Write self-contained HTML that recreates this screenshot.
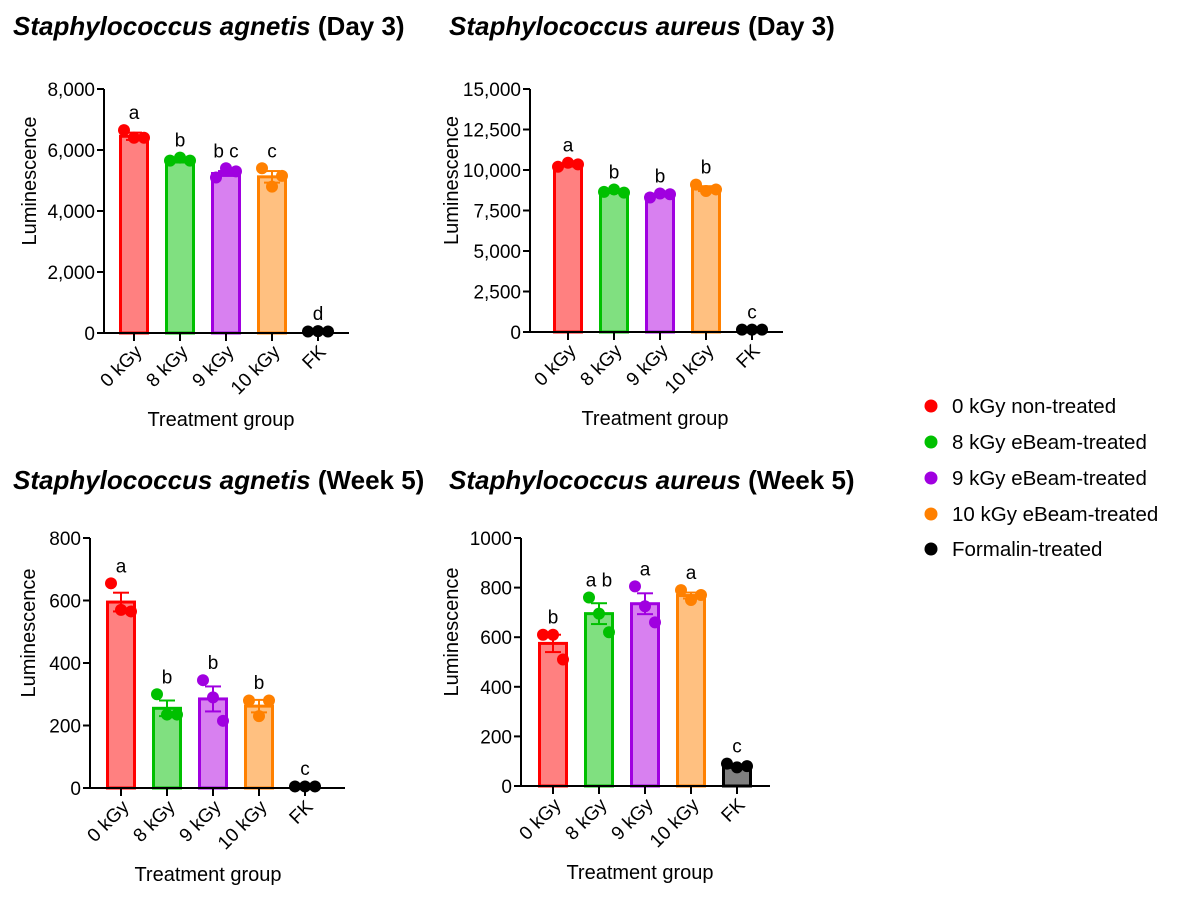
<!DOCTYPE html>
<html><head><meta charset="utf-8"><style>
body{margin:0;background:#fff;}
svg{display:block;font-family:"Liberation Sans",Arial,sans-serif;}
</style></head><body>
<svg id="fig" width="1180" height="908" viewBox="0 0 1180 908">
<text x="13" y="35" font-size="26" font-weight="bold"><tspan font-style="italic">Staphylococcus agnetis</tspan> (Day 3)</text>
<text x="449" y="35" font-size="26" font-weight="bold"><tspan font-style="italic">Staphylococcus aureus</tspan> (Day 3)</text>
<text x="13" y="489" font-size="26" font-weight="bold"><tspan font-style="italic">Staphylococcus agnetis</tspan> (Week 5)</text>
<text x="449" y="489" font-size="26" font-weight="bold"><tspan font-style="italic">Staphylococcus aureus</tspan> (Week 5)</text>
<g>
<g><circle cx="931" cy="406" r="6.5" fill="#ff0000"/><text x="952" y="413" font-size="20.5">0 kGy non-treated</text></g>
<g><circle cx="931" cy="442" r="6.5" fill="#00c000"/><text x="952" y="449" font-size="20.5">8 kGy eBeam-treated</text></g>
<g><circle cx="931" cy="478" r="6.5" fill="#a000e0"/><text x="952" y="485" font-size="20.5">9 kGy eBeam-treated</text></g>
<g><circle cx="931" cy="514" r="6.5" fill="#ff8000"/><text x="952" y="521" font-size="20.5">10 kGy eBeam-treated</text></g>
<g><circle cx="931" cy="549" r="6.5" fill="#000"/><text x="952" y="556" font-size="20.5">Formalin-treated</text></g>
</g>
</svg>
<script>
const categories=["0 kGy","8 kGy","9 kGy","10 kGy","FK"];
const p1Means=[6450,5650,5230,5120,60];
const p1Sem=[120,60,80,190,10];
const p1Points=[[6650,6400,6400],[5650,5750,5650],[5100,5400,5300],[5400,4800,5150],[50,60,50]];
const p1Letters=["a","b","b c","c","d"];
const p1Ticks=[0,2000,4000,6000,8000];
const p2Means=[10300,8650,8450,8850,120];
const p2Sem=[90,70,90,150,10];
const p2Points=[[10200,10450,10350],[8650,8800,8600],[8300,8550,8500],[9100,8700,8800],[150,150,150]];
const p2Letters=["a","b","b","b","c"];
const p2Ticks=[0,2500,5000,7500,10000,12500,15000];
const p3Means=[595,255,285,262,5];
const p3Sem=[30,25,40,20,2];
const p3Points=[[655,570,565],[300,235,235],[345,290,215],[280,230,280],[5,5,5]];
const p3Letters=["a","b","b","b","c"];
const p3Ticks=[0,200,400,600,800];
const p4Means=[575,695,735,768,78];
const p4Sem=[35,42,42,12,5];
const p4Points=[[610,610,510],[760,695,620],[805,725,660],[790,750,770],[90,75,80]];
const p4Letters=["b","a b","a","a","c"];
const p4Ticks=[0,200,400,600,800,1000];

const strokes=["#ff0000","#00c000","#a000e0","#ff8000","#000000"];
const fills=["#ff8080","#80e080","#d880f0","#ffc080","#000000"];
const NS="http://www.w3.org/2000/svg";
const svg=document.getElementById("fig");
function mk(tag,attrs,parent){const e=document.createElementNS(NS,tag);for(const k in attrs)e.setAttribute(k,attrs[k]);(parent||svg).appendChild(e);return e;}
function fmt(v,comma){return comma?v.toLocaleString("en-US"):String(v);}

function panel(cfg){
  const g=mk("g",{});
  
  
  const yS=v=>cfg.y0-(v/cfg.max)*(cfg.y0-cfg.yTop);
  const xS=i=>cfg.x0+cfg.first+i*46;
  mk("line",{x1:cfg.x0,y1:cfg.yTop,x2:cfg.x0,y2:cfg.y0,stroke:"#000","stroke-width":2},g);
  cfg.ticks.forEach(t=>{
    const y=yS(t);
    mk("line",{x1:cfg.x0-7,y1:y,x2:cfg.x0,y2:y,stroke:"#000","stroke-width":2},g);
    const tx=mk("text",{x:cfg.x0-9,y:y+7,"font-size":19,"text-anchor":"end"},g);
    tx.textContent=fmt(t,cfg.comma);
    
    
  });
  const yt=mk("text",{x:0,y:0,"font-size":20,"text-anchor":"middle",transform:`translate(${cfg.x0-cfg.ytOff},${(cfg.yTop+cfg.y0)/2-30}) rotate(-90)`},g);
  yt.textContent="Luminescence";
  
  
  cfg.means.forEach((m,i)=>{
    const cx=xS(i);
    const top=yS(m);
    const fill=(i===4&&cfg.grayFK)?"#808080":fills[i];
    const b=mk("rect",{x:cx-13.5,y:top,width:27,height:Math.max(cfg.y0-top,0.5),fill:fill,stroke:strokes[i],"stroke-width":3},g);
    
    
    const eT=yS(m+cfg.sem[i]),eB=yS(m-cfg.sem[i]);
    mk("line",{x1:cx,y1:eT,x2:cx,y2:eB,stroke:strokes[i],"stroke-width":2},g);
    mk("line",{x1:cx-8,y1:eT,x2:cx+8,y2:eT,stroke:strokes[i],"stroke-width":2},g);
    mk("line",{x1:cx-8,y1:eB,x2:cx+8,y2:eB,stroke:strokes[i],"stroke-width":2},g);
    const pts=cfg.points[i];
    let minY=eT;
    pts.forEach((p,j)=>{
      const py=yS(p);
      minY=Math.min(minY,py);
      const c=mk("circle",{cx:cx+(j-1)*10,cy:py,r:6,fill:strokes[i]},g);
      
      
    });
    const l=mk("text",{x:cx,y:minY-11,"font-size":19,"text-anchor":"middle"},g);
    l.textContent=cfg.letters[i];
    
    
  });
  mk("line",{x1:cfg.x0,y1:cfg.y0,x2:cfg.xEnd,y2:cfg.y0,stroke:"#000","stroke-width":2},g);
  categories.forEach((c,i)=>{
    const cx=xS(i);
    mk("line",{x1:cx,y1:cfg.y0,x2:cx,y2:cfg.y0+8,stroke:"#000","stroke-width":2},g);
    const t=mk("text",{x:0,y:0,"font-size":19,"text-anchor":"end",transform:`translate(${cx+9},${cfg.y0+20}) rotate(-45)`},g);
    t.textContent=c;
    
    
  });
  const xt=mk("text",{x:cfg.x0+cfg.first+87,y:cfg.y0+93,"font-size":20,"text-anchor":"middle"},g);
  xt.textContent="Treatment group";
  
  
}
panel({name:"chart-agnetis-day3",x0:104,yTop:89,y0:333,max:8000,xEnd:349,first:30,ticks:p1Ticks,comma:true,means:p1Means,sem:p1Sem,points:p1Points,letters:p1Letters,ytOff:68});
panel({name:"chart-aureus-day3",x0:530,yTop:89,y0:332,max:15000,xEnd:783,first:38,ticks:p2Ticks,comma:true,means:p2Means,sem:p2Sem,points:p2Points,letters:p2Letters,ytOff:72});
panel({name:"chart-agnetis-week5",x0:90,yTop:538,y0:788,max:800,xEnd:345,first:31,ticks:p3Ticks,comma:false,means:p3Means,sem:p3Sem,points:p3Points,letters:p3Letters,ytOff:55});
panel({name:"chart-aureus-week5",x0:521,yTop:538,y0:786,max:1000,xEnd:770,first:32,ticks:p4Ticks,comma:false,means:p4Means,sem:p4Sem,points:p4Points,letters:p4Letters,ytOff:63,grayFK:true});
</script>
</body></html>
